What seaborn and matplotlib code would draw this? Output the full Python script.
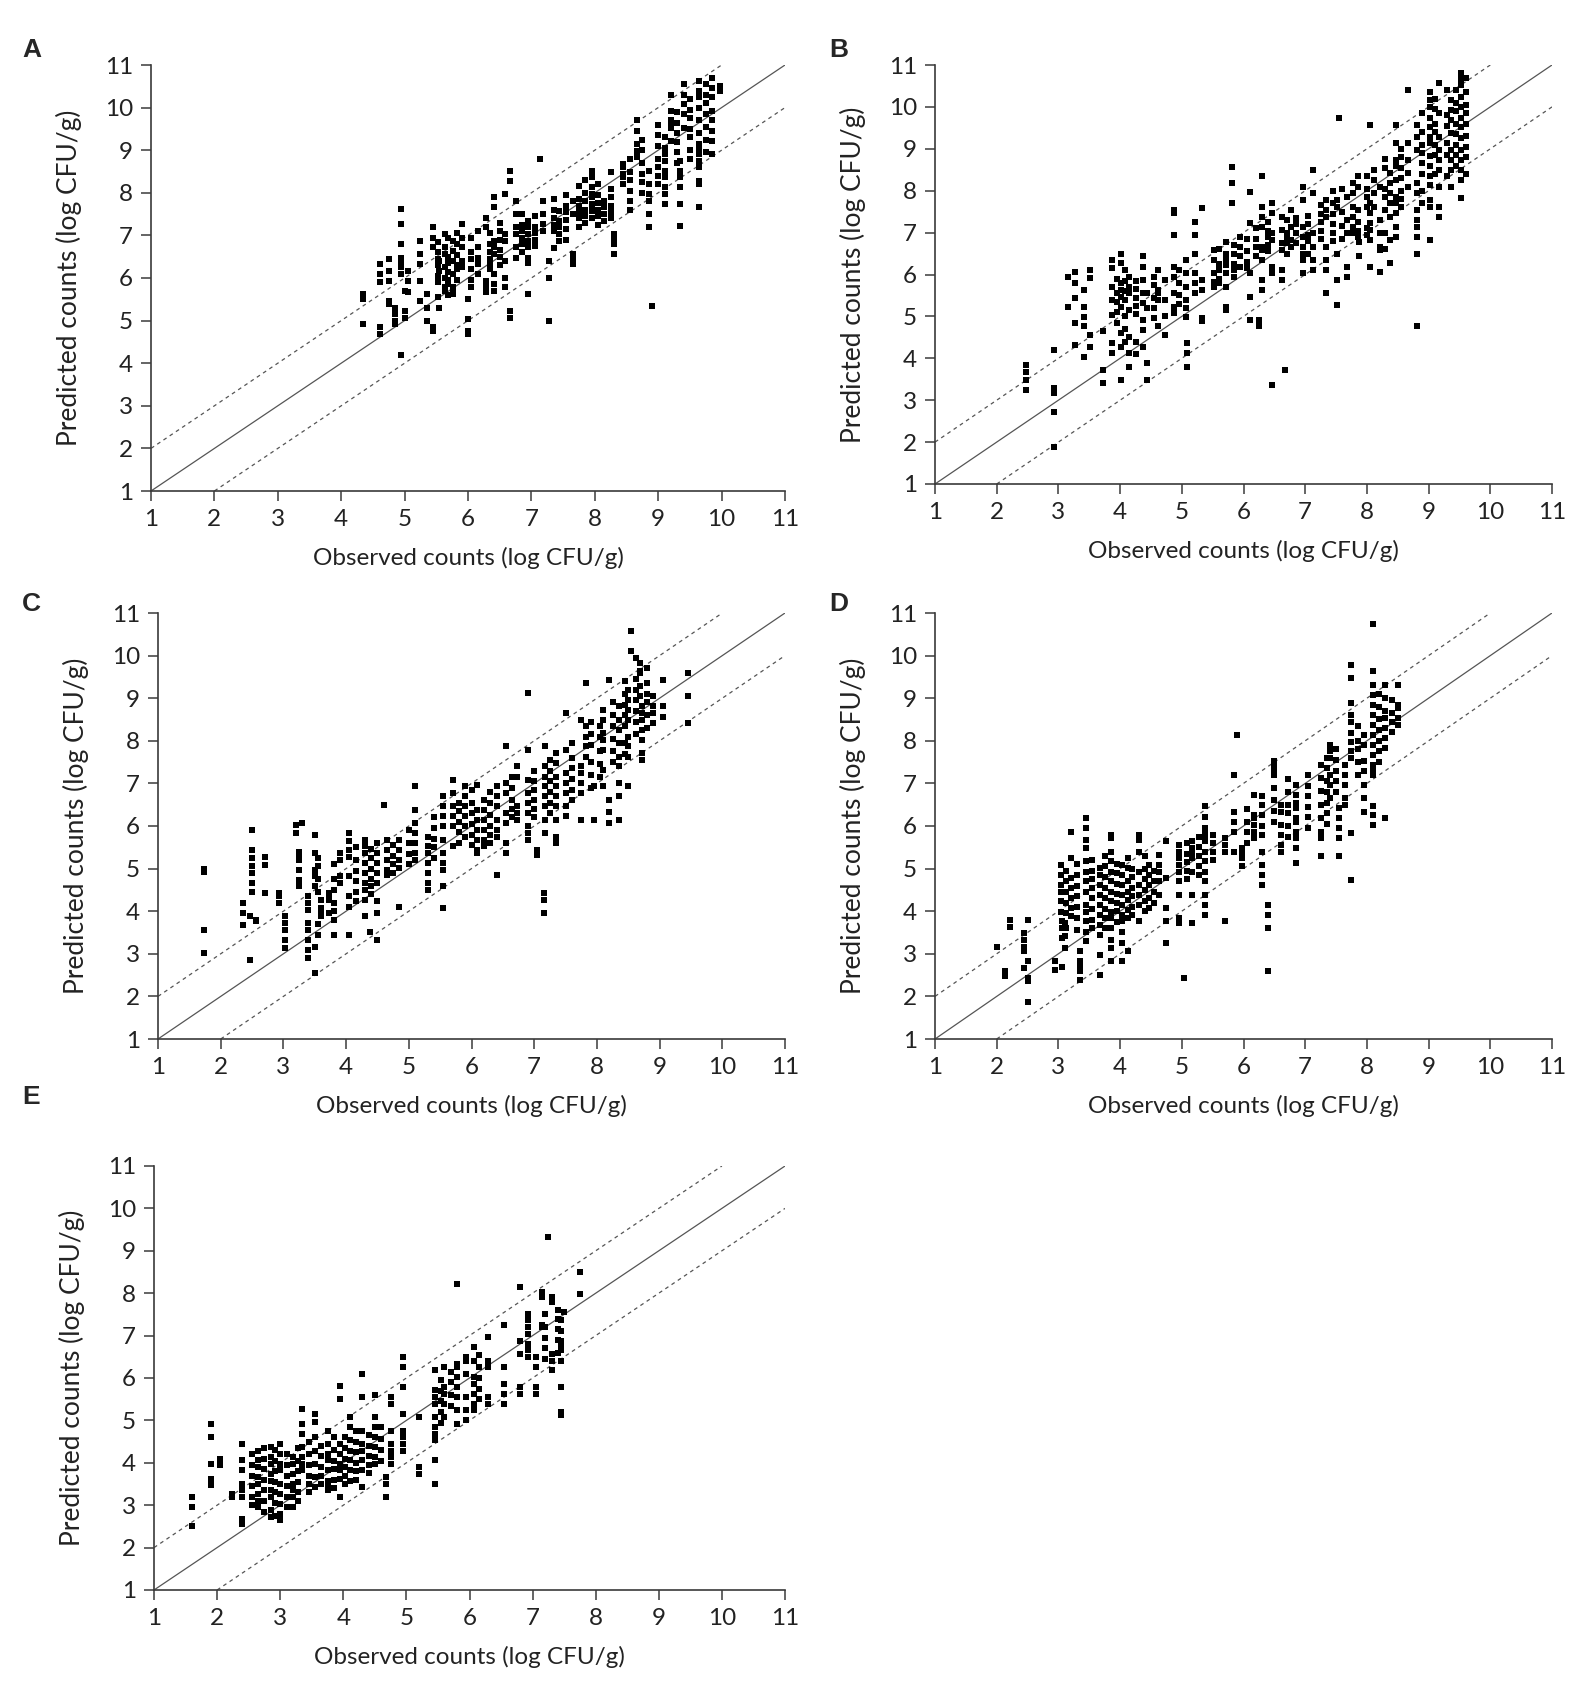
import matplotlib
matplotlib.use("Agg")
import matplotlib.pyplot as plt
import seaborn as sns
import pandas as pd

# ---------------- data (observed value -> stack of predicted values) ----------------
A_obs = [4.35, 4.61, 4.75, 4.85, 4.95, 5.0, 5.06, 5.24, 5.35, 5.45, 5.55, 5.63, 5.77, 5.9,
         6.0, 6.15, 6.28, 6.41, 6.58, 6.66, 6.76, 6.95, 7.13, 7.18, 7.27, 7.43, 7.65, 7.95,
         8.15, 8.3, 8.45, 8.67, 8.85, 8.9, 9.1, 9.35, 9.4, 9.65, 9.85, 9.97, 9.2,
         5.52, 5.68, 5.83, 6.05, 6.35, 6.5, 6.85, 7.05, 7.35, 7.55, 7.75, 7.85, 8.05, 8.25,
         8.55, 8.75, 9.0, 9.3, 9.5, 9.75]
A_pred = [[5.62, 5.5, 4.92], [6.33, 6.1, 5.9, 4.84, 4.68], [6.44, 6.17, 5.94, 5.47, 5.39],
          [5.3, 5.15, 5.0, 4.92], [7.62, 7.27, 6.8, 6.48, 6.4, 6.25, 6.1, 4.2], [5.7, 5.23, 5.07],
          [6.17, 5.94, 5.66], [6.87, 6.56, 6.33, 5.94, 5.47], [5.62, 5.3, 5.0],
          [7.19, 6.95, 6.72, 4.76, 4.84], [6.4, 6.17, 5.3],
          [7.03, 6.72, 6.56, 6.25, 6.0, 5.78, 5.7], [6.87, 6.64, 6.4, 6.1, 5.7, 5.62, 5.78],
          [7.27, 6.95, 6.72, 6.4, 6.25], [5.5, 5.03, 4.68, 4.76], [7.1, 6.72, 6.48, 6.33, 6.1],
          [7.42, 7.19, 5.94, 5.78, 5.66], [7.9, 7.66, 6.87, 6.72, 6.56, 6.1, 5.86, 5.7],
          [7.97, 7.03, 6.87, 6.4, 6.0, 5.78], [8.52, 8.28, 5.07, 5.23],
          [7.81, 7.5, 7.19, 7.03, 6.72, 6.48], [7.34, 7.03, 7.19, 6.87, 6.72, 6.48, 6.36, 5.62],
          [8.79], [7.81, 7.5, 7.27, 7.1], [6.0, 6.4, 5.0], [7.58, 7.34, 7.03, 6.87, 7.19],
          [7.81, 7.5, 6.4, 6.33, 6.48, 6.56], [8.52, 8.36, 8.13, 7.97, 7.74, 7.66, 7.9, 7.58, 7.42],
          [7.5, 7.34, 7.81, 7.66], [6.8, 6.95, 7.03, 6.56, 6.87], [8.6, 8.44, 8.67, 8.36, 8.2],
          [9.7, 9.46, 9.14, 8.99, 8.83], [8.52, 8.2, 7.97, 7.81, 7.5, 7.19], [5.35],
          [9.3, 9.06, 8.9, 8.75, 8.52, 8.36, 8.13, 7.97, 7.74], [8.13, 7.74, 7.23, 8.75, 8.52, 8.36],
          [10.55, 10.3, 10.08, 9.85, 9.53],
          [10.63, 10.4, 10.24, 10.0, 9.7, 9.4, 9.15, 8.9, 9.06, 8.75, 8.6, 8.28, 8.2, 7.66],
          [10.7, 10.47, 10.24, 9.93, 9.7, 9.46, 9.22, 8.9], [10.5, 10.4],
          [10.3, 9.93, 9.7, 9.53, 9.6, 9.22],
          [6.85, 6.6, 6.45, 6.3, 6.05, 5.9, 5.55], [6.95, 6.5, 6.35, 6.15, 5.95, 5.85, 5.6],
          [7.05, 6.8, 6.55, 6.3, 6.2, 5.95], [6.95, 6.6, 6.45, 6.2, 5.95, 5.8],
          [7.05, 6.8, 6.6, 6.45, 6.3, 6.2], [7.3, 7.1, 6.9, 6.65, 6.5, 6.3],
          [7.5, 7.25, 7.1, 6.95, 6.8, 6.6], [7.45, 7.2, 7.05, 6.9, 6.75],
          [7.85, 7.6, 7.4, 7.25, 7.1, 6.7], [7.95, 7.7, 7.55, 7.35, 7.15, 6.9],
          [8.15, 7.85, 7.7, 7.55, 7.4, 7.2], [8.3, 8.0, 7.8, 7.6, 7.45, 7.3],
          [8.2, 7.95, 7.75, 7.6, 7.45, 7.25], [8.5, 8.1, 7.9, 7.7, 7.55, 7.4],
          [8.8, 8.5, 8.3, 8.05, 7.8, 7.6], [9.25, 9.0, 8.7, 8.45, 8.25, 8.0],
          [9.6, 9.35, 9.1, 8.8, 8.6, 8.4, 8.2], [9.9, 9.65, 9.4, 9.2, 8.95, 8.7],
          [10.2, 9.95, 9.75, 9.5, 9.3, 9.0, 8.8], [10.55, 10.3, 10.1, 9.85, 9.55, 9.25, 8.95]]

B_obs = [2.47, 2.93, 3.15, 3.27, 3.42, 3.52, 3.73, 3.87, 4.02, 4.15, 4.37, 4.44, 4.62, 4.73,
         4.87, 5.07, 5.09, 5.22, 5.32, 5.52, 5.72, 5.82, 5.95, 6.1, 6.25, 6.3, 6.47, 6.62,
         6.67, 6.77, 6.97, 7.12, 7.34, 7.52, 7.55, 7.67, 7.77, 7.87, 8.05, 8.12, 8.22, 8.37,
         8.47, 8.67, 8.82, 9.02, 9.17, 9.37, 9.52,
         3.95, 4.08, 4.25, 4.55, 4.95, 5.6, 5.85, 6.05, 6.2, 6.4, 6.7, 6.85, 7.05, 7.25,
         7.45, 7.6, 7.85, 8.0, 8.3, 8.55, 8.9, 9.1, 9.3, 9.45, 9.6]
B_pred = [[3.84, 3.68, 3.48, 3.24], [4.2, 3.28, 3.16, 2.73, 1.89], [5.95, 5.23],
          [6.07, 5.79, 5.43, 4.84, 4.32], [5.63, 5.23, 4.99, 4.76, 4.04], [6.11, 5.91, 4.56, 4.28],
          [4.64, 3.72, 3.4], [6.35, 6.15, 5.71, 5.39, 5.03, 4.36, 4.12],
          [6.5, 6.27, 5.79, 5.63, 5.47, 5.23, 4.6, 4.28, 3.48],
          [5.95, 5.71, 5.55, 5.15, 4.52, 4.12, 3.8],
          [6.43, 6.19, 5.87, 5.55, 5.31, 4.92, 4.68, 4.28], [5.55, 5.19, 3.88, 3.48],
          [6.11, 5.63, 5.39, 4.76, 5.55], [5.87, 5.39, 5.0, 4.56],
          [7.54, 7.46, 6.94, 6.19, 5.95, 5.55, 5.23, 5.07], [6.35, 6.03, 5.71, 5.39, 5.19, 4.99],
          [4.36, 4.12, 3.8], [7.26, 6.94, 6.5, 6.03, 5.79, 5.55], [7.58, 5.87, 5.63, 4.96, 4.88],
          [6.58, 6.35, 6.03, 5.83, 5.71], [6.78, 6.5, 6.35, 6.23, 6.03, 6.27, 5.71, 5.15, 5.23],
          [8.57, 8.18, 7.7], [6.9, 6.66, 6.43, 6.19], [7.98, 7.22, 6.03, 5.47, 4.92], [4.92, 4.76],
          [8.34, 7.62, 7.38, 7.14, 6.66, 6.58, 6.35, 5.87, 5.63],
          [7.7, 7.46, 6.98, 6.82, 6.19, 6.03, 3.36], [7.38, 7.06, 6.74, 6.58, 6.11, 5.87], [3.72],
          [7.54, 7.14, 6.82, 6.66], [8.1, 7.78, 7.14, 6.9, 6.66, 6.5, 6.35, 6.03],
          [8.5, 7.94, 7.0, 6.66, 6.35, 6.11], [7.78, 7.54, 7.38, 6.66, 6.35, 6.11, 5.55],
          [7.78, 7.62, 6.5, 5.87, 5.27], [9.73], [7.86, 7.3, 6.98, 6.19, 5.95],
          [8.18, 7.94, 7.62, 7.38, 7.14, 6.98], [6.78, 6.43],
          [9.57, 7.7, 7.46, 7.22, 7.06, 6.19, 6.82], [8.5, 8.26, 7.94, 7.62],
          [8.1, 7.3, 6.98, 6.66, 6.07, 6.58], [8.42, 8.18, 7.94, 7.7, 7.38, 6.82, 6.27],
          [9.57, 9.13, 8.74, 8.58, 8.26, 7.86, 7.7, 7.46, 7.14, 6.9],
          [10.4, 8.74, 8.42, 9.13, 8.1],
          [9.57, 9.29, 8.97, 8.18, 7.94, 7.54, 7.3, 7.14, 6.9, 6.5, 4.76],
          [10.36, 10.17, 10.0, 9.73, 9.53, 9.29, 9.13, 8.82, 8.58, 8.34, 8.14, 7.78, 7.62, 6.82],
          [10.56, 9.85, 9.29, 8.97, 8.74, 8.5, 8.1, 7.62, 7.38],
          [10.17, 9.93, 9.69, 9.37, 8.97, 8.74, 8.5, 8.1],
          [10.8, 10.52, 10.24, 10.0, 9.73, 9.53, 9.25, 8.97, 8.74, 8.5, 8.26, 7.82, 10.76, 10.64],
          [5.9, 5.55, 5.35, 5.1, 4.85], [6.1, 5.85, 5.6, 5.4, 5.0, 4.7, 4.4],
          [5.85, 5.65, 5.45, 5.25, 5.05, 4.4, 4.1], [5.95, 5.75, 5.45, 5.2, 4.95],
          [6.1, 5.8, 5.5, 5.3], [6.6, 6.25, 6.1, 5.9, 5.8], [6.7, 6.5, 6.25, 6.1, 5.95],
          [6.85, 6.55, 6.3, 6.15], [7.1, 6.85, 6.65, 6.45], [7.25, 7.05, 6.9, 6.7, 6.55],
          [7.3, 7.0, 6.9, 6.75, 6.5], [7.35, 7.2, 7.0, 6.75], [7.4, 7.2, 6.95, 6.8, 6.5],
          [7.65, 7.45, 7.25, 7.05, 6.85], [8.0, 7.7, 7.45, 7.2, 7.0, 6.8], [8.05, 7.5, 7.15, 6.85],
          [8.35, 8.1, 7.55, 7.25, 7.05, 6.9], [8.35, 8.05, 7.85, 7.6, 7.1, 6.95],
          [8.75, 8.55, 8.05, 7.85, 7.55, 7.0, 6.6], [9.0, 8.8, 8.55, 8.3, 8.0, 7.8, 7.6],
          [9.85, 9.4, 9.1, 8.9, 8.65, 8.4, 8.0, 7.7], [10.2, 9.95, 9.6, 9.4, 9.1, 8.85, 8.4],
          [10.4, 9.8, 9.55, 9.15, 8.85, 8.35], [10.4, 10.1, 9.9, 9.6, 9.35, 9.1, 8.85, 8.6],
          [10.7, 10.35, 10.05, 9.85, 9.6, 9.3, 9.05, 8.8, 8.4]]

C_obs = [1.73, 2.35, 2.47, 2.5, 2.57, 2.7, 2.93, 3.02, 3.2, 3.3, 3.25, 3.4, 3.5, 3.6, 3.72,
         3.9, 3.8, 4.05, 4.3, 4.38, 4.5, 4.6, 4.65, 4.85, 5.1, 5.3, 5.55, 5.7, 5.9, 6.08,
         6.2, 6.4, 6.55, 6.72, 6.9, 7.05, 7.18, 7.15, 7.35, 7.5, 7.75, 7.83, 7.95, 8.1,
         8.2, 8.35, 8.5, 8.55, 8.68, 8.72, 8.9, 9.06, 9.46,
         3.55, 3.8, 4.15, 4.4, 4.75, 5.0, 5.4, 5.8, 6.0, 6.3, 6.65, 7.0, 7.25, 7.6, 7.9,
         8.05, 8.25, 8.45, 8.62, 8.8]
C_pred = [[5.0, 4.93, 3.56, 3.02], [4.19, 3.95, 3.68], [2.86, 3.88],
          [5.91, 5.44, 5.24, 5.05, 4.89, 4.66, 4.46], [3.8, 3.76], [5.28, 5.09, 4.43],
          [4.43, 4.35, 4.19], [3.88, 3.72, 3.56, 3.33, 3.13], [6.03, 5.83], [6.07],
          [5.4, 5.28, 5.2, 4.97, 4.74, 4.58], [4.35, 4.19, 4.03, 3.72, 3.56, 3.33, 2.9, 3.09],
          [3.17, 2.55, 5.36, 4.97, 5.79, 4.82, 4.58], [4.27, 4.07, 3.95, 3.88],
          [4.43, 4.35, 4.43, 4.27, 3.95], [4.82, 4.66, 5.36, 5.2], [3.45],
          [3.45, 5.83, 5.64, 5.44, 5.28, 4.82, 4.35, 4.11],
          [5.68, 5.52, 5.36, 5.13, 4.89, 4.66, 4.5, 4.27, 3.88], [3.52],
          [5.6, 5.36, 5.13, 4.89, 4.66, 4.23, 3.95, 3.33], [6.5], [5.68, 5.44, 5.2, 4.97, 4.85],
          [5.68, 5.44, 5.2, 5.01, 4.11], [6.93, 6.38, 6.07, 5.83, 5.6, 5.36, 5.2],
          [5.75, 5.52, 5.36, 5.13, 4.89, 4.66, 4.5],
          [6.7, 6.46, 6.23, 5.99, 5.68, 5.36, 5.13, 4.97, 4.58, 4.07],
          [7.08, 6.77, 6.46, 6.23, 5.99, 5.52], [6.93, 6.7, 6.46, 6.23, 5.99, 5.75],
          [6.38, 6.15, 5.91, 5.68, 5.44, 5.36, 6.97], [6.62, 6.38, 6.15, 5.91, 5.68, 5.52],
          [6.93, 6.7, 6.46, 6.15, 5.91, 5.75, 4.85], [7.87, 7.01, 6.77, 6.3, 6.07, 5.6, 5.36],
          [7.4, 7.16, 6.46, 6.3, 6.15], [7.79, 7.08, 6.77, 6.54, 6.3, 5.99, 5.83, 5.68, 9.12],
          [5.44, 5.32], [7.87, 7.4, 7.16, 6.93, 6.7, 6.46, 6.15, 5.83], [4.43, 4.27, 3.95],
          [7.71, 7.48, 7.16, 6.93, 6.7, 6.46, 6.15, 5.75, 5.6],
          [8.65, 7.79, 7.24, 7.01, 6.77, 6.46, 6.23], [8.49, 7.4, 7.24, 7.01, 6.77, 6.15],
          [9.35, 8.34, 8.1, 7.87, 7.63], [6.93, 6.15], [8.73, 8.49, 8.18, 8.02, 7.79, 7.32, 6.93],
          [9.43, 6.62, 6.34, 6.07], [8.81, 8.49, 8.26, 7.95, 7.63, 7.4, 7.01, 6.7, 6.15],
          [9.2, 8.96, 8.73, 8.49, 8.1, 7.87, 7.63, 6.93], [10.57, 10.1],
          [9.82, 9.59, 9.63, 9.82, 9.59, 9.28, 9.04], [8.81, 8.65, 8.49, 8.26, 8.02, 7.71, 7.55],
          [9.04, 8.81, 8.65, 8.41], [9.43, 8.81, 8.57], [9.59, 9.04, 8.41],
          [5.25, 5.05, 4.75, 4.45, 3.7, 3.45], [5.1, 4.75, 4.5, 4.2, 4.0, 3.8],
          [5.5, 5.2, 4.95, 4.7, 4.45, 4.25], [5.45, 5.25, 5.0, 4.75, 4.6, 4.4],
          [5.55, 5.3, 5.1, 4.9], [5.9, 5.6, 5.35, 5.1], [6.2, 5.95, 5.7, 5.5, 5.25],
          [6.55, 6.35, 6.1, 5.85, 5.6], [6.85, 6.55, 6.3, 6.05, 5.8, 5.55],
          [6.8, 6.55, 6.25, 6.0, 5.8, 5.6], [7.15, 6.9, 6.6, 6.4, 6.2],
          [7.3, 7.05, 6.85, 6.6, 6.4, 6.2], [7.55, 7.3, 7.05, 6.8, 6.55, 6.3],
          [7.95, 7.6, 7.35, 7.1, 6.85, 6.6], [8.45, 8.15, 7.9, 7.5, 7.2, 6.9],
          [8.35, 8.1, 7.75, 7.45, 7.15], [8.9, 8.6, 8.35, 8.05, 7.75, 7.5],
          [9.4, 9.1, 8.85, 8.6, 8.35, 7.95, 7.7], [9.95, 9.45, 9.2, 8.95, 8.7, 8.45, 8.15],
          [9.7, 9.35, 9.1, 8.9, 8.6, 8.3]]

D_obs = [2.0, 2.14, 2.22, 2.45, 2.5, 2.95, 3.06, 3.1, 3.05, 3.2, 3.35, 3.45, 3.67, 3.85,
         4.03, 4.13, 4.3, 4.47, 4.63, 4.75, 4.95, 5.03, 5.17, 5.38, 5.7, 5.85, 5.98, 5.9,
         6.17, 6.3, 6.4, 6.5, 6.6, 6.85, 7.25, 7.4, 7.55, 7.65, 7.75, 7.95, 8.1, 8.3, 8.5,
         3.12, 3.3, 3.55, 3.75, 3.95, 4.2, 4.4, 4.55, 5.08, 5.28, 5.5, 6.05, 6.3, 6.5, 6.72,
         7.05, 7.35, 7.5, 7.85, 8.2, 8.4]
D_pred = [[3.17], [2.59, 2.47], [3.8, 3.64], [3.06, 2.66, 3.33, 3.17, 3.49],
          [2.43, 2.35, 1.88, 2.82, 3.8], [2.82, 2.63], [2.7, 3.76, 3.6, 3.37], [3.72, 3.41, 3.13],
          [5.09, 4.85, 4.62, 4.46, 4.23, 3.99], [5.87, 5.25, 4.78, 4.54, 4.31, 4.07, 3.88],
          [2.82, 2.39, 3.06, 2.74, 2.59],
          [6.18, 5.95, 5.68, 5.48, 5.17, 4.93, 4.7, 4.46, 4.15, 3.99, 3.76, 3.52, 3.29],
          [5.01, 4.85, 4.62, 4.38, 4.15, 3.92, 3.68, 3.45, 2.98, 2.51],
          [5.79, 5.71, 5.4, 5.17, 4.93, 4.7, 4.46, 4.23, 3.99, 3.84, 3.6, 3.33, 3.13, 2.82],
          [5.09, 4.85, 4.62, 4.38, 4.15, 3.92, 3.76, 3.52, 3.25, 2.82],
          [5.25, 5.01, 4.7, 4.46, 4.27, 4.03, 3.84, 3.06],
          [5.79, 5.68, 5.4, 4.93, 4.62, 4.38, 4.15, 3.76], [5.09, 4.85, 4.62, 4.31, 4.07],
          [5.32, 5.09, 4.93, 4.7, 4.38], [5.64, 4.78, 4.07, 3.76, 3.25],
          [5.56, 5.4, 5.25, 5.09, 4.93, 4.7, 4.38, 3.84, 3.72], [2.43],
          [5.64, 5.48, 5.4, 5.25, 4.93, 4.38, 3.72],
          [5.87, 5.64, 5.4, 5.17, 4.93, 4.7, 4.38, 4.15, 3.92, 6.46, 6.22, 5.95, 5.71],
          [5.71, 5.56, 5.4, 3.76], [6.1, 5.87, 5.4, 7.2, 6.34], [5.4, 5.25, 5.05, 5.48], [8.14],
          [6.73, 6.26, 6.18, 6.03, 5.87, 5.71], [5.4, 5.09, 4.85, 4.62], [4.15, 3.92, 3.6, 2.59],
          [7.52, 7.44, 7.2, 7.28, 7.44], [6.5, 6.34, 6.03, 5.79, 5.56, 5.4],
          [6.97, 6.73, 6.42, 6.1, 5.87, 5.71, 5.48, 5.13, 6.54, 6.18, 6.1],
          [7.44, 7.13, 6.81, 6.5, 6.18, 5.87, 5.71, 5.29], [7.75, 7.6, 7.91, 7.2, 6.97, 6.65],
          [6.42, 6.18, 5.95, 5.71, 5.29], [7.44, 7.2, 6.97, 6.65, 6.5],
          [9.78, 9.47, 8.88, 8.61, 8.45, 8.18, 7.98, 7.75, 7.6, 4.74, 5.83],
          [8.14, 7.91, 7.52, 7.28, 6.97, 6.65, 6.34],
          [10.74, 9.63, 9.31, 9.08, 8.84, 8.61, 8.38, 8.14, 7.91, 7.67, 7.44, 7.2, 6.46, 6.26, 6.03, 7.28],
          [9.31, 9.0, 8.69, 8.53, 8.3, 8.06, 7.83, 6.18], [9.31, 8.84, 8.53, 8.38, 8.77],
          [4.95, 4.7, 4.45, 4.2, 3.95, 3.6], [5.1, 4.85, 4.6, 4.35, 4.1, 3.85, 3.55],
          [5.2, 4.95, 4.75, 4.55, 4.3, 4.05, 3.8, 3.6], [5.3, 5.05, 4.8, 4.55, 4.3, 4.05, 3.85, 3.6],
          [5.1, 4.9, 4.65, 4.4, 4.2, 4.0, 3.75], [5.0, 4.8, 4.55, 4.35, 4.1, 3.9],
          [5.3, 5.0, 4.75, 4.5, 4.25, 4.0], [4.95, 4.7, 4.45, 4.2],
          [5.6, 5.35, 5.15, 4.95, 4.75], [5.75, 5.5, 5.3, 5.05, 4.85], [5.8, 5.6, 5.4, 5.2],
          [6.4, 6.1, 5.85, 5.6], [6.7, 6.5, 6.25, 6.0, 5.8], [6.9, 6.6, 6.35, 6.1],
          [7.1, 6.8, 6.5, 6.3, 6.0, 5.75], [7.2, 6.95, 6.7, 6.45, 6.2, 5.95],
          [7.6, 7.35, 7.05, 6.8, 6.55, 6.3, 6.05], [7.8, 7.55, 7.3, 7.05, 6.8],
          [8.35, 8.0, 7.8, 7.5, 7.2], [9.1, 8.8, 8.5, 8.25, 8.0, 7.75, 7.5], [8.95, 8.65, 8.45, 8.2]]

E_obs = [1.6, 1.91, 2.04, 2.23, 2.4, 2.65, 2.85, 3.0, 3.2, 3.35, 3.55, 3.75, 3.95, 4.1,
         4.3, 4.5, 4.68, 4.75, 4.95, 5.2, 5.45, 5.6, 5.8, 5.95, 6.07, 6.3, 6.55, 6.8,
         6.93, 7.05, 7.15, 7.25, 7.3, 7.45, 7.5, 7.75,
         2.55, 2.75, 2.92, 3.1, 3.28, 3.45, 3.65, 3.85, 4.02, 4.2, 4.4, 4.6, 5.55, 5.7,
         6.15, 7.2, 7.4]
E_pred = [[3.19, 2.95, 2.52], [4.92, 4.61, 3.98, 3.62, 3.47], [4.1, 3.94], [3.27, 3.19],
          [3.47, 3.5, 3.35, 3.19, 2.68, 2.56, 4.45, 4.06, 3.82],
          [4.29, 4.06, 3.9, 3.66, 3.5, 3.27, 3.11, 2.95],
          [4.37, 4.13, 3.98, 3.74, 3.58, 3.35, 3.19, 2.88, 2.72],
          [4.45, 4.21, 3.98, 3.82, 3.5, 3.27, 3.03, 2.8, 2.64],
          [4.13, 3.98, 3.74, 3.5, 3.35, 3.19, 2.95], [5.27, 4.92, 4.69, 4.37, 4.13, 3.98, 3.82],
          [4.96, 5.16, 4.61, 4.29, 3.98, 3.66, 3.43], [4.76, 4.45, 4.21, 4.06, 3.82, 3.58, 3.35, 3.43],
          [4.45, 4.21, 3.98, 3.82, 3.62, 3.19, 5.82, 5.51], [5.08, 4.84, 4.53, 4.29, 4.06, 3.82, 3.58],
          [6.1, 5.55, 4.76, 4.45, 4.29, 4.06, 3.82, 3.43], [5.59, 5.08, 4.84, 4.61, 4.37, 4.13, 3.98],
          [3.66, 3.5, 3.19], [5.55, 5.39, 4.76, 4.45, 4.29, 4.13, 3.98],
          [6.26, 5.16, 5.78, 4.76, 4.61, 4.45, 4.29, 6.49], [5.08, 3.9, 3.74],
          [6.18, 5.71, 5.55, 5.39, 5.08, 4.84, 4.69, 4.53, 4.06, 3.5], [6.26, 5.78, 5.63, 5.39, 5.08],
          [6.33, 6.26, 6.02, 5.78, 5.55, 5.24, 4.92, 8.22], [6.49, 6.41, 6.1, 5.55, 5.24, 5.0],
          [6.73, 6.41, 6.02, 5.86, 5.63, 5.39, 5.24], [6.96, 6.26, 6.41, 5.55, 5.39],
          [6.26, 5.63, 5.39, 5.86, 7.24], [6.88, 6.57, 5.78, 5.63, 8.14],
          [7.51, 7.36, 7.2, 7.04, 6.81, 6.65, 6.49], [6.26, 5.78, 5.63, 6.49],
          [8.02, 7.91, 7.24, 7.2], [9.32], [6.57, 6.41, 6.18, 7.91, 7.79],
          [7.36, 7.12, 6.88, 6.73, 6.88, 6.65, 6.41, 5.78, 5.2, 5.12], [7.55], [8.5, 7.99],
          [4.2, 3.95, 3.7, 3.45, 3.2, 3.0], [4.35, 4.1, 3.85, 3.6, 3.35, 3.1, 2.85],
          [4.3, 4.05, 3.8, 3.55, 3.3, 3.05, 2.75], [4.2, 3.95, 3.7, 3.45, 3.2, 2.95],
          [4.35, 4.05, 3.8, 3.55, 3.3, 3.1], [4.5, 4.2, 3.95, 3.7, 3.5, 3.3],
          [4.4, 4.15, 3.9, 3.7, 3.5], [4.6, 4.3, 4.05, 3.85, 3.6, 3.4],
          [4.6, 4.35, 4.1, 3.9, 3.7, 3.5], [4.75, 4.5, 4.25, 4.0, 3.8, 3.6],
          [4.65, 4.4, 4.15, 3.95, 3.75], [4.85, 4.55, 4.3, 4.05],
          [5.95, 5.7, 5.45, 5.2, 4.95], [6.15, 5.9, 5.6, 5.35], [6.55, 6.25, 6.0, 5.75, 5.5],
          [7.5, 7.2, 6.95, 6.7, 6.45], [7.6, 7.4, 7.15, 6.9, 6.6]]

panel_letters = ["A", "B", "C", "D", "E"]
ticks = list(range(1, 12))
ref_offsets = [0, 1, -1]        # line of equality and +/-1 log bands
x_label = "Observed counts (log CFU/g)"
y_label = "Predicted counts (log CFU/g)"


def expand(obs, pred):
    xs, ys = [], []
    for x, stack in zip(obs, pred):
        for y in stack:
            xs.append(x)
            ys.append(y)
    return pd.DataFrame({"obs": xs, "pred": ys})


panels = [(A_obs, A_pred), (B_obs, B_pred), (C_obs, C_pred), (D_obs, D_pred), (E_obs, E_pred)]

# ---------------- layout ----------------
sns.set_style("ticks")
plt.rcParams["font.family"] = ["Lato", "DejaVu Sans"]

W, H = 1587, 1687
fig = plt.figure(figsize=(W / 100, H / 100), dpi=100)

boxes = [  # left, right, top, bottom in pixels
    (151, 785, 65, 491),
    (935, 1552, 65, 484),
    (158, 785, 613, 1039),
    (935, 1552, 613, 1039),
    (154, 785, 1166, 1590),
]
letter_pos = [(22, 38), (829, 38), (22, 592), (829, 592), (22, 1085)]

axis_col = "#3a3a3a"
for (obs, pred), (l, r, t, b), letter, (lx, ly) in zip(panels, boxes, panel_letters, letter_pos):
    ax = fig.add_axes([l / W, 1 - b / H, (r - l) / W, (b - t) / H])
    df = expand(obs, pred)
    for off in ref_offsets:
        xs = [max(1, 1 - off), min(11, 11 - off)]
        ys = [v + off for v in xs]
        ax.plot(xs, ys, color="#555555", lw=0.9,
                ls="-" if off == 0 else (0, (3, 3)), zorder=1)
    sns.scatterplot(data=df, x="obs", y="pred", ax=ax, marker="s", s=13,
                    color="black", linewidth=0, zorder=3, legend=False)
    ax.set_xlim(1, 11)
    ax.set_ylim(1, 11)
    ax.set_xticks(ticks)
    ax.set_yticks(ticks)
    ax.set_xticklabels([str(t) for t in ticks])
    ax.set_yticklabels([str(t) for t in ticks])
    for s in ["top", "right"]:
        ax.spines[s].set_visible(False)
    for s in ["left", "bottom"]:
        ax.spines[s].set_color(axis_col)
        ax.spines[s].set_linewidth(1.2)
    ax.tick_params(axis="both", direction="out", length=7, width=1.1, color=axis_col,
                   labelsize=17.5, labelcolor="#222222", pad=6)
    ax.set_xlabel(x_label, fontsize=17.5, color="#222222")
    ax.set_ylabel(y_label, fontsize=19, color="#222222")
    ax.xaxis.set_label_coords(0.5, -56 / (b - t))
    ax.yaxis.set_label_coords(-69 / (r - l), 0.5)
    ax.patch.set_alpha(0)
    fig.text(lx / W, 1 - ly / H, letter, fontsize=19, fontweight="bold",
             family=["Liberation Sans", "DejaVu Sans"], ha="left", va="top")

fig.savefig("out.png", dpi=100, facecolor="white")
